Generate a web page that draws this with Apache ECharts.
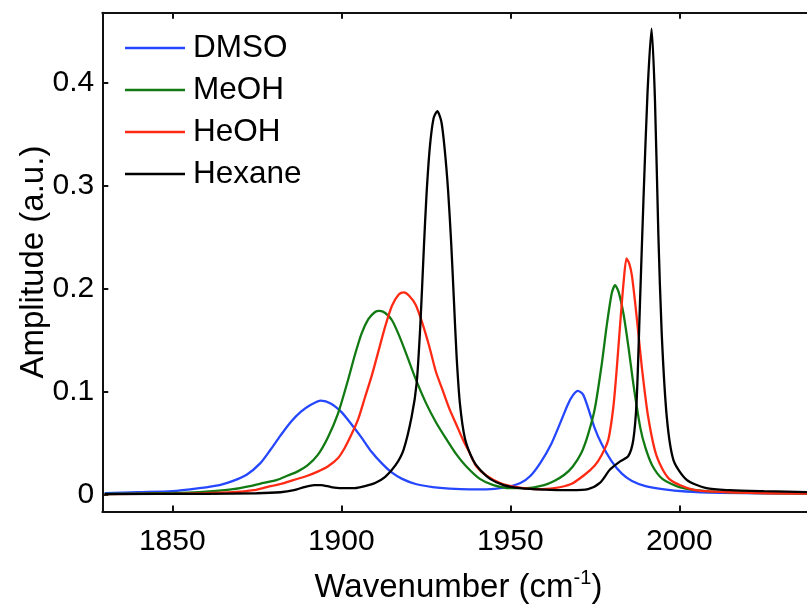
<!DOCTYPE html>
<html>
<head>
<meta charset="utf-8">
<script src="https://cdn.jsdelivr.net/npm/echarts@6/dist/echarts.min.js"></script>
<style>
  html, body { margin: 0; padding: 0; background: #fff; }
  #chart { width: 807px; height: 605px; }
</style>
</head>
<body>
<div id="chart"></div>
<script>
// Solvent names (legend order)
const solvents = ['DMSO', 'MeOH', 'HeOH', 'Hexane'];

// Tick positions
const xTicks = [1850, 1900, 1950, 2000];
const yTicks = [0, 0.1, 0.2, 0.3, 0.4];

// DMSO spectrum: wavenumber (cm^-1) and amplitude (a.u.)
const dmsoWn = [1830, 1840, 1850, 1858, 1864, 1868, 1872, 1876, 1879, 1882, 1885, 1888, 1891, 1894, 1897, 1900, 1903, 1906, 1909, 1912, 1915, 1918, 1922, 1927, 1932, 1938, 1943, 1948, 1953, 1956, 1959, 1962, 1965, 1967, 1968.5, 1970, 1971.5, 1973, 1975, 1977, 1980, 1983, 1986, 1990, 1995, 2002, 2012, 2025, 2040];
const dmsoAmp = [0.001, 0.002, 0.003, 0.006, 0.009, 0.013, 0.019, 0.030, 0.043, 0.057, 0.070, 0.080, 0.087, 0.091, 0.088, 0.080, 0.068, 0.055, 0.041, 0.030, 0.021, 0.015, 0.010, 0.007, 0.0055, 0.0048, 0.0048, 0.0065, 0.011, 0.018, 0.031, 0.048, 0.071, 0.087, 0.096, 0.1005, 0.097, 0.084, 0.064, 0.049, 0.032, 0.020, 0.013, 0.008, 0.005, 0.0027, 0.0015, 0.001, 0.0007];

// MeOH spectrum
const meohWn = [1830, 1845, 1855, 1862, 1868, 1873, 1877, 1881, 1884, 1887, 1890, 1893, 1896, 1899, 1902, 1904, 1906, 1908, 1910, 1911.3, 1913, 1915, 1917, 1919.5, 1922, 1925, 1928, 1931, 1934, 1937, 1941, 1945, 1950, 1955, 1960, 1963, 1966, 1968.5, 1971, 1973, 1975, 1977, 1978.5, 1980, 1981, 1982, 1983.5, 1985, 1986.5, 1988.5, 1990, 1992, 1995, 2000, 2008, 2020, 2040];
const meohAmp = [0.0003, 0.001, 0.0015, 0.003, 0.005, 0.008, 0.011, 0.014, 0.018, 0.022, 0.028, 0.038, 0.055, 0.078, 0.111, 0.135, 0.156, 0.170, 0.177, 0.178, 0.176, 0.169, 0.155, 0.134, 0.112, 0.089, 0.070, 0.054, 0.039, 0.027, 0.015, 0.009, 0.006, 0.006, 0.009, 0.013, 0.019, 0.027, 0.040, 0.058, 0.083, 0.125, 0.163, 0.195, 0.203, 0.197, 0.175, 0.142, 0.105, 0.064, 0.045, 0.028, 0.015, 0.007, 0.003, 0.0015, 0.0005];

// HeOH spectrum
const heohWn = [1830, 1850, 1860, 1868, 1874, 1878, 1882, 1886, 1890, 1893, 1896, 1899, 1901, 1903, 1905, 1907, 1909, 1911, 1913, 1915, 1917, 1918.5, 1920, 1922, 1924, 1926, 1928, 1930, 1932, 1934, 1936, 1938, 1940, 1943, 1947, 1952, 1958, 1963, 1968, 1972, 1975, 1977, 1979, 1980.5, 1981.5, 1982.5, 1983.5, 1984.4, 1985.2, 1986, 1987.4, 1988.9, 1990.8, 1993.3, 1997, 2004, 2015, 2040];
const heohAmp = [0.0002, 0.0005, 0.001, 0.002, 0.004, 0.007, 0.010, 0.014, 0.018, 0.022, 0.027, 0.035, 0.045, 0.058, 0.073, 0.094, 0.115, 0.139, 0.163, 0.183, 0.194, 0.196, 0.193, 0.184, 0.166, 0.144, 0.119, 0.101, 0.083, 0.068, 0.053, 0.040, 0.027, 0.018, 0.011, 0.007, 0.005, 0.006, 0.010, 0.019, 0.028, 0.038, 0.053, 0.085, 0.122, 0.165, 0.205, 0.229, 0.224, 0.212, 0.172, 0.124, 0.075, 0.037, 0.015, 0.0045, 0.002, 0.0005];

// Hexane spectrum
const hexWn = [1830, 1860, 1875, 1882, 1886, 1889, 1892, 1894, 1897, 1900, 1904, 1907, 1910, 1913, 1916, 1918.4, 1920.8, 1922.3, 1923.4, 1924.4, 1925.2, 1926.2, 1927.3, 1928.4, 1929.6, 1930.6, 1931.6, 1932.5, 1933.3, 1934.1, 1935.1, 1936.6, 1939, 1941, 1944, 1948, 1953, 1960, 1968, 1973, 1976.5, 1979.5, 1982.5, 1984.9, 1986.4, 1987.4, 1988.4, 1989.4, 1990.6, 1991.8, 1992.8, 1993.8, 1994.8, 1996.3, 1998.3, 2002.2, 2008, 2015, 2025, 2040];
const hexAmp = [0.0002, 0.0005, 0.001, 0.002, 0.004, 0.007, 0.009, 0.009, 0.007, 0.006, 0.006, 0.008, 0.011, 0.017, 0.028, 0.043, 0.075, 0.108, 0.165, 0.237, 0.290, 0.337, 0.365, 0.372, 0.362, 0.335, 0.295, 0.245, 0.190, 0.135, 0.088, 0.054, 0.033, 0.024, 0.015, 0.009, 0.006, 0.0045, 0.004, 0.005, 0.011, 0.024, 0.032, 0.037, 0.053, 0.092, 0.189, 0.286, 0.390, 0.452, 0.383, 0.253, 0.156, 0.075, 0.033, 0.014, 0.006, 0.004, 0.003, 0.002];

const lineColors = ['#2547ff', '#127a12', '#ff2a14', '#000000'];

function pairs(xs, ys) {
  return xs.map((x, i) => [x, ys[i]]);
}

const spectra = [
  pairs(dmsoWn, dmsoAmp),
  pairs(meohWn, meohAmp),
  pairs(heohWn, heohAmp),
  pairs(hexWn, hexAmp)
];

const FONT = 'Liberation Sans, Arial, Helvetica, sans-serif';
const AXIS_COLOR = '#111';
const X_MIN = 1829.3, X_MAX = 2040;
const Y_MIN = -0.0167, Y_MAX = 0.4676;

const chart = echarts.init(document.getElementById('chart'), null, { renderer: 'canvas' });

chart.setOption({
  backgroundColor: '#ffffff',
  animation: false,
  textStyle: { fontFamily: FONT, color: '#000' },
  grid: {
    left: 102.3, top: 12.7, bottom: 93.5, right: -7.5,
    show: false,
    outerBoundsMode: 'none'
  },
  legend: {
    orient: 'vertical',
    left: 125,
    top: 32,
    padding: 0,
    itemWidth: 60,
    itemHeight: 2.5,
    itemGap: 10,
    icon: 'rect',
    data: solvents,
    textStyle: { fontFamily: FONT, fontSize: 31.5, color: '#000', lineHeight: 30, padding: [0, 0, 0, 3] }
  },
  xAxis: [
    {
      type: 'value',
      position: 'bottom',
      min: X_MIN, max: X_MAX,
      name: '{a|Wavenumber (cm}{s|-1}{a|)}',
      nameLocation: 'middle',
      nameGap: 57,
      nameMoveOverlap: false,
      nameTextStyle: {
        rich: {
          a: { fontFamily: FONT, fontSize: 33, color: '#000' },
          s: { fontFamily: FONT, fontSize: 20, color: '#000', padding: [0, 0, 18, 0] }
        }
      },
      splitLine: { show: false },
      axisLine: { show: true, onZero: false, lineStyle: { color: AXIS_COLOR, width: 2 } },
      axisTick: { show: true, inside: true, length: 6, customValues: xTicks, lineStyle: { color: AXIS_COLOR, width: 2 } },
      axisLabel: {
        show: true, customValues: xTicks, margin: 15, fontSize: 30, fontFamily: FONT, color: '#000',
        formatter: (v) => String(v)
      }
    },
    {
      type: 'value',
      position: 'top',
      min: X_MIN, max: X_MAX,
      splitLine: { show: false },
      axisLine: { show: true, onZero: false, lineStyle: { color: AXIS_COLOR, width: 2 } },
      axisTick: { show: true, inside: true, length: 6, customValues: xTicks, lineStyle: { color: AXIS_COLOR, width: 2 } },
      axisLabel: { show: false }
    }
  ],
  yAxis: [
    {
      type: 'value',
      position: 'left',
      min: Y_MIN, max: Y_MAX,
      name: 'Amplitude (a.u.)',
      nameLocation: 'middle',
      nameGap: 52,
      nameMoveOverlap: false,
      nameTextStyle: { fontFamily: FONT, fontSize: 33, color: '#000' },
      splitLine: { show: false },
      axisLine: { show: true, onZero: false, lineStyle: { color: AXIS_COLOR, width: 2 } },
      axisTick: { show: true, inside: true, length: 6, customValues: yTicks, lineStyle: { color: AXIS_COLOR, width: 2 } },
      axisLabel: {
        show: true, customValues: yTicks, margin: 8, fontSize: 30, fontFamily: FONT, color: '#000',
        formatter: (v) => String(v)
      }
    },
    {
      type: 'value',
      position: 'right',
      min: Y_MIN, max: Y_MAX,
      splitLine: { show: false },
      axisLine: { show: true, onZero: false, lineStyle: { color: AXIS_COLOR, width: 2 } },
      axisTick: { show: true, inside: true, length: 6, customValues: yTicks, lineStyle: { color: AXIS_COLOR, width: 2 } },
      axisLabel: { show: false }
    }
  ],
  series: solvents.map((name, i) => ({
    name: name,
    type: 'line',
    xAxisIndex: 0,
    yAxisIndex: 0,
    data: spectra[i],
    showSymbol: false,
    symbol: 'none',
    smooth: 0.25,
    clip: true,
    color: lineColors[i],
    lineStyle: { color: lineColors[i], width: 2.3 },
    z: 2 + i
  }))
});
</script>
</body>
</html>
